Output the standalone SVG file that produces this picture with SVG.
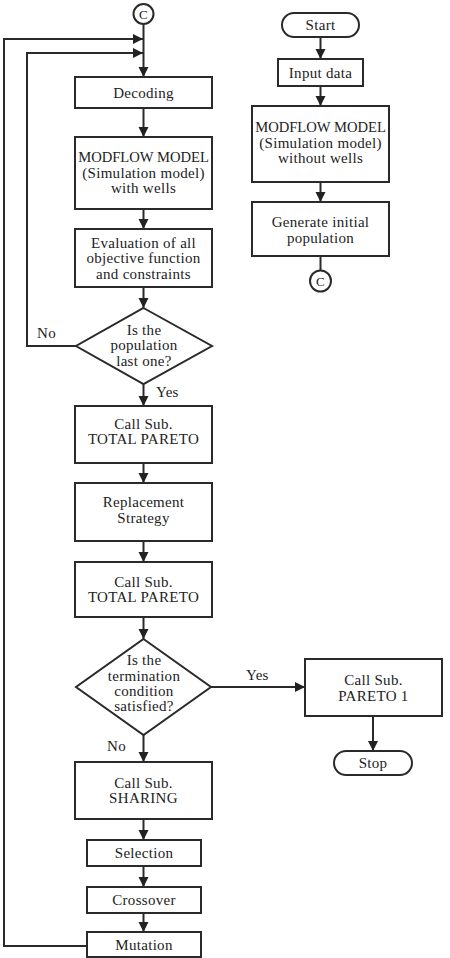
<svg xmlns="http://www.w3.org/2000/svg" width="450" height="958" viewBox="0 0 450 958">
<defs>
<marker id="ah" markerUnits="userSpaceOnUse" markerWidth="10" markerHeight="12" viewBox="0 0 10 12" refX="10" refY="6" orient="auto">
<path d="M0,1 L10,6 L0,11 Z" fill="#222"/>
</marker>
<style>
.b{fill:#fff;stroke:#2a2a2a;stroke-width:2}
.c{fill:none;stroke:#2a2a2a;stroke-width:2}
.a{fill:none;stroke:#2a2a2a;stroke-width:2;marker-end:url(#ah)}
text{font-family:"Liberation Serif","Times New Roman",serif;font-size:15px;fill:#222;text-anchor:middle;letter-spacing:0.3px}
.l{text-anchor:start}
.t{letter-spacing:0;font-size:14.6px}
</style>
</defs>
<rect width="450" height="958" fill="#fff"/>
<g id="connectors">
<path class="a" d="M143.5,24.5 V77"/>
<path class="a" d="M86,946 H4 V39 H143"/>
<path class="a" d="M76,346 H27 V53 H143"/>
<path class="a" d="M143.5,108 V137"/>
<path class="a" d="M143.5,209 V229"/>
<path class="a" d="M143.5,287 V308"/>
<path class="a" d="M143.5,384 V406"/>
<path class="a" d="M143.5,463 V483"/>
<path class="a" d="M143.5,541 V562"/>
<path class="a" d="M143.5,617 V639"/>
<path class="a" d="M211,687 H305"/>
<path class="a" d="M373,716 V751"/>
<path class="a" d="M143.5,735 V762"/>
<path class="a" d="M143.5,819 V840"/>
<path class="a" d="M143.5,866 V887"/>
<path class="a" d="M143.5,913 V932"/>
<path class="a" d="M320.5,37 V59"/>
<path class="a" d="M320.5,86 V106"/>
<path class="a" d="M320.5,182 V202"/>
<path class="c" d="M320.5,256 V270.5"/>
<text class="l" x="37" y="338">No</text>
<text class="l" x="156" y="397">Yes</text>
<text class="l" x="246" y="680">Yes</text>
<text class="l" x="107" y="751">No</text>
</g>
<g id="c-top"><circle class="b" cx="143.5" cy="14" r="10"/><text x="143.5" y="19" style="font-size:13px">C</text></g>
<g id="decoding"><rect class="b" x="75" y="77" width="137" height="31"/><text x="143.5" y="97.5">Decoding</text></g>
<g id="modflow-wells"><rect class="b" x="75" y="137" width="137" height="72"/>
<text class="t" x="143.5" y="162">MODFLOW MODEL</text><text x="143.5" y="178">(Simulation model)</text><text x="143.5" y="193">with wells</text></g>
<g id="evaluation"><rect class="b" x="75" y="229" width="137" height="58"/>
<text x="143.5" y="248">Evaluation of all</text><text x="143.5" y="263">objective function</text><text x="143.5" y="279">and constraints</text></g>
<g id="decision-population"><path class="b" d="M143.5,308 L212,346 L143.5,384 L76,346 Z"/>
<text x="144" y="335">Is the</text><text x="144" y="350">population</text><text x="144" y="366">last one?</text></g>
<g id="total-pareto-1"><rect class="b" x="75" y="406" width="137" height="57"/>
<text x="143.5" y="429">Call Sub.</text><text x="143.5" y="444">TOTAL PARETO</text></g>
<g id="replacement"><rect class="b" x="75" y="483" width="137" height="58"/>
<text x="143.5" y="507">Replacement</text><text x="143.5" y="523">Strategy</text></g>
<g id="total-pareto-2"><rect class="b" x="75" y="562" width="137" height="55"/>
<text x="143.5" y="587">Call Sub.</text><text x="143.5" y="602">TOTAL PARETO</text></g>
<g id="decision-termination"><path class="b" d="M143.5,639 L211,687 L143.5,735 L76,687 Z"/>
<text x="144" y="665">Is the</text><text x="144" y="681">termination</text><text x="144" y="696">condition</text><text x="144" y="711">satisfied?</text></g>
<g id="pareto-1"><rect class="b" x="305" y="659" width="137" height="57"/>
<text x="373.5" y="685">Call Sub.</text><text x="373.5" y="701">PARETO 1</text></g>
<g id="stop"><rect class="b" x="334" y="751" width="78" height="24" rx="12"/><text x="373" y="768">Stop</text></g>
<g id="sharing"><rect class="b" x="75" y="762" width="137" height="57"/>
<text x="143.5" y="788">Call Sub.</text><text x="143.5" y="803">SHARING</text></g>
<g id="selection"><rect class="b" x="87" y="840" width="114" height="26"/><text x="144" y="858">Selection</text></g>
<g id="crossover"><rect class="b" x="87" y="887" width="114" height="26"/><text x="144" y="905">Crossover</text></g>
<g id="mutation"><rect class="b" x="87" y="932" width="114" height="25"/><text x="144" y="950">Mutation</text></g>
<g id="start"><rect class="b" x="282" y="13" width="77" height="24" rx="12"/><text x="320.5" y="29.5">Start</text></g>
<g id="input-data"><rect class="b" x="278" y="59" width="85" height="27"/><text x="320.5" y="77.5">Input data</text></g>
<g id="modflow-no-wells"><rect class="b" x="252" y="106" width="137" height="76"/>
<text class="t" x="320.5" y="132">MODFLOW MODEL</text><text x="320.5" y="148">(Simulation model)</text><text x="320.5" y="163">without wells</text></g>
<g id="generate"><rect class="b" x="252" y="202" width="137" height="54"/>
<text x="320.5" y="227">Generate initial</text><text x="320.5" y="243">population</text></g>
<g id="c-bottom"><circle class="b" cx="320.5" cy="281" r="10.5"/><text x="320.5" y="286" style="font-size:13px">C</text></g>
</svg>
